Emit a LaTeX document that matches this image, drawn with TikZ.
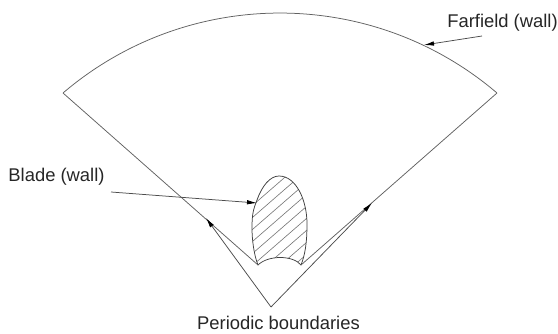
\documentclass[tikz,border=0pt]{standalone}
\usepackage{fontspec}
\setmainfont{Liberation Sans}
\usetikzlibrary{arrows.meta}
\tikzset{
 wire/.style={draw=black!62,line width=0.75pt},
 pointer/.style={draw=black!70,line width=0.75pt,-{Latex[length=10pt,width=4.5pt,black]}},
 lab/.style={font=\fontsize{18.4}{22}\selectfont,text=black!85,inner sep=0pt,anchor=center},
 hatchline/.style={draw=black!55,line width=0.6pt},
 bladeedge/.style={draw=black!75,line width=0.75pt}
}
\begin{document}
\begin{tikzpicture}[x=1pt,y=-1pt]
\useasboundingbox (0,0) rectangle (558,333);
\fill[white] (0,0) rectangle (558,333);
\coordinate (L) at (63,93);
\coordinate (R) at (497,93);
\coordinate (A) at (271,307);
\coordinate (BL) at (258,265);
\coordinate (BR) at (301,265);
\coordinate (BT) at (279,176);
\coordinate (TL) at (206,218);
\coordinate (TR) at (372,203);
\coordinate (TB) at (257,203);
\coordinate (SB) at (111,192);
\coordinate (TF) at (424,45);
\coordinate (SF) at (482,36);
% blade hatch
\begin{scope}
\clip (BL) .. controls (254,255) and (252,240) .. (252,228)
 .. controls (252,215) and (253,210) .. (257,200)
 .. controls (262,186) and (270,176) .. (BT)
 .. controls (296,176) and (307,200) .. (307,224)
 .. controls (307,243) and (305,255) .. (BR)
 .. controls (293,255) and (268,255) .. (BL) -- cycle;
\foreach \k in {-3,...,7}
  \draw[hatchline] (245,{217+12*\k+0.87*8}) -- (315,{217+12*\k-0.87*62});
\end{scope}
\draw[bladeedge] (BL) .. controls (254,255) and (252,240) .. (252,228)
 .. controls (252,215) and (253,210) .. (257,200)
 .. controls (262,186) and (270,176) .. (BT)
 .. controls (296,176) and (307,200) .. (307,224)
 .. controls (307,243) and (305,255) .. (BR);
\draw[bladeedge] (BL) .. controls (268,255) and (293,255) .. (BR);
% domain
\draw[wire] (L) .. controls (188,-13.6) and (372,-13.6) .. (R);
\draw[wire] (L) -- (BL);
\draw[wire] (R) -- (BR);
\draw[pointer] (A) -- (TL);
\draw[pointer] (A) -- (TR);
\draw[pointer] (SB) -- (TB);
\draw[pointer] (SF) -- (TF);
\node[lab] (far) at (502.5,23) {Farfield (wall)};
\node[lab] (blade) at (56.5,177) {Blade (wall)};
\node[lab] (per) at (278.5,323) {Periodic boundaries};
\end{tikzpicture}
\end{document}
